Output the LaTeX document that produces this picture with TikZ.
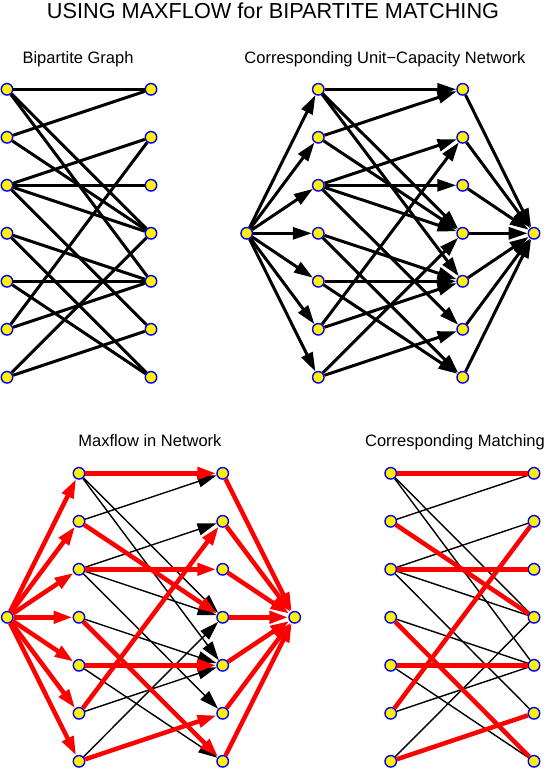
\documentclass[tikz,border=0pt]{standalone}
\usepackage{fontspec}
\setmainfont{Liberation Sans}
\usetikzlibrary{arrows.meta}

\tikzset{
  vtx/.style={circle,draw=blue,fill=yellow,line width=1.4pt,inner sep=0pt,minimum size=11.5pt},
  ttl/.style={anchor=base,font=\fontsize{16.5}{19}\selectfont},
  heavy/.style={line width=3pt},
  slim/.style={line width=1.4pt},
  flow/.style={red,line width=4.5pt},
}

\begin{document}
\begin{tikzpicture}[
x=1pt, y=-1pt,
>={Triangle[length=19pt,width=12pt]},
]
\useasboundingbox (0,0) rectangle (554,769);

\node[anchor=base,font=\fontsize{21.7}{25}\selectfont] (title) at (273,18.5) {USING MAXFLOW for BIPARTITE MATCHING};
\node[ttl] (bg) at (78,63) {Bipartite Graph};
\node[ttl] (ucn) at (385,63) {Corresponding Unit−Capacity Network};
\node[ttl] (mfn) at (150,446) {Maxflow in Network};
\node[ttl] (cm) at (455,446) {Corresponding Matching};

% vertices, top row y from 89, bottom row y from 473
\foreach \i in {1,...,7} {
  \pgfmathsetmacro{\ya}{89.3+48*(\i-1)}
  \pgfmathsetmacro{\yb}{473.3+48*(\i-1)}
  \node[vtx] (a\i) at (7,\ya) {};
  \node[vtx] (b\i) at (151,\ya) {};
  \node[vtx] (u\i) at (318.3,\ya) {};
  \node[vtx] (v\i) at (462.7,\ya) {};
  \node[vtx] (fu\i) at (79,\yb) {};
  \node[vtx] (fv\i) at (222.7,\yb) {};
  \node[vtx] (mu\i) at (390.7,\yb) {};
  \node[vtx] (mv\i) at (534,\yb) {};
}
\node[vtx] (s) at (246.7,233.3) {};
\node[vtx] (t) at (534,233.3) {};
\node[vtx] (fs) at (7.3,617.3) {};
\node[vtx] (ft) at (294.7,617.3) {};

% bipartite graph and its network
\foreach \i/\j in {1/1,1/4,1/5,2/1,2/4,3/2,3/3,3/4,3/6,4/5,4/7,5/5,5/7,6/2,6/5,7/4,7/6} {
  \draw[heavy] (a\i) -- (b\j);
  \draw[heavy,->] (u\i) -- (v\j);
}
\foreach \i in {1,...,7} {
  \draw[heavy,->] (s) -- (u\i);
  \draw[heavy,->] (v\i) -- (t);
  \draw[flow,->] (fs) -- (fu\i);
  \draw[flow,->] (fv\i) -- (ft);
}

% edges not used by the flow
\foreach \i/\j in {1/4,1/5,2/1,3/2,3/4,3/6,4/5,5/7,6/5,7/4} {
  \draw[slim,->] (fu\i) -- (fv\j);
  \draw[slim] (mu\i) -- (mv\j);
}
% matched edges
\foreach \i/\j in {1/1,2/4,3/3,4/7,5/5,6/2,7/6} {
  \draw[flow,->] (fu\i) -- (fv\j);
  \draw[flow] (mu\i) -- (mv\j);
}
\end{tikzpicture}
\end{document}
